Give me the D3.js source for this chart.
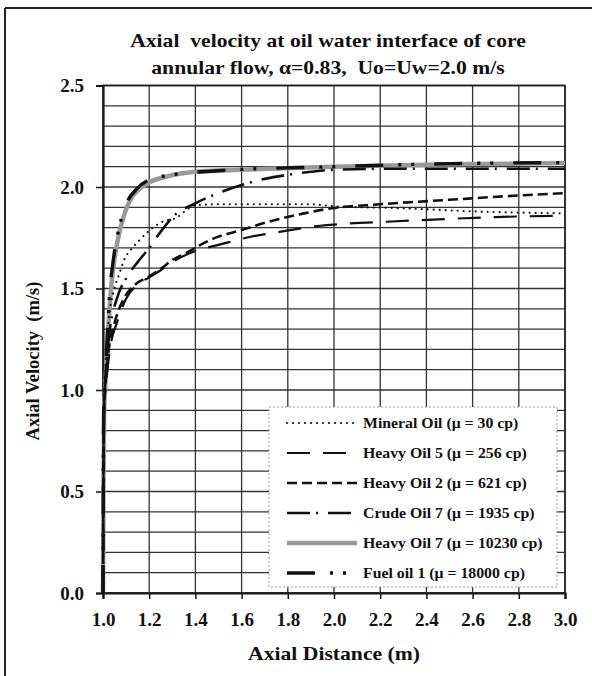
<!DOCTYPE html>
<html lang="en">
<head>
<meta charset="UTF-8">
<title>Axial velocity</title>
<script src="https://d3js.org/d3.v7.min.js"></script>
<style>
  body { margin: 0; background: #fff; }
  text { font-family: "Liberation Serif", "Times New Roman", serif; font-weight: bold; fill: #111; white-space: pre; }
</style>
</head>
<body>
<svg id="chart" width="592" height="676"></svg>
<script>
// data: [axial distance (m), axial velocity (m/s)]
const mineralOil = [[1.0,0],[1.003,0.9],[1.01,1.1],[1.025,1.35],[1.045,1.48],[1.07,1.57],[1.095,1.65],[1.12,1.69],[1.16,1.74],[1.2,1.785],[1.26,1.83],[1.32,1.85],[1.36,1.885],[1.4,1.91],[1.5,1.915],[1.9,1.915],[2.0,1.905],[2.3,1.895],[2.6,1.88],[3.0,1.87]];
const heavyOil5 = [[1.0,0],[1.004,0.9],[1.015,1.05],[1.03,1.2],[1.06,1.33],[1.1,1.45],[1.15,1.52],[1.2,1.555],[1.25,1.59],[1.3,1.63],[1.4,1.685],[1.5,1.715],[1.64,1.755],[1.77,1.78],[1.93,1.808],[2.06,1.82],[2.25,1.83],[2.5,1.843],[2.7,1.852],[3.0,1.858]];
const heavyOil2 = [[1.0,0],[1.004,0.9],[1.012,1.05],[1.025,1.2],[1.05,1.33],[1.09,1.45],[1.14,1.52],[1.2,1.56],[1.25,1.597],[1.3,1.64],[1.36,1.675],[1.42,1.714],[1.48,1.747],[1.6,1.788],[1.72,1.83],[1.87,1.87],[1.99,1.895],[2.2,1.915],[2.5,1.937],[2.75,1.955],[3.0,1.97]];
const crudeOil7 = [[1.0,0],[1.004,0.9],[1.01,1.05],[1.03,1.3],[1.06,1.45],[1.1,1.55],[1.15,1.63],[1.2,1.7],[1.25,1.78],[1.3,1.85],[1.4,1.92],[1.5,1.97],[1.6,2.01],[1.7,2.04],[1.8,2.06],[1.9,2.075],[2.0,2.085],[2.3,2.09],[3.0,2.09]];
const heavyOil7 = [[1.0,0],[1.002,0.5],[1.005,0.9],[1.009,1.0],[1.02,1.25],[1.035,1.5],[1.043,1.59],[1.056,1.69],[1.074,1.79],[1.1,1.89],[1.125,1.95],[1.152,1.985],[1.195,2.02],[1.27,2.05],[1.4,2.075],[1.6,2.085],[2.0,2.1],[2.5,2.112],[3.0,2.118]];
const fuelOil1 = [[1.0,0],[1.003,0.9],[1.008,1.0],[1.018,1.25],[1.03,1.5],[1.04,1.6],[1.052,1.7],[1.07,1.8],[1.095,1.9],[1.145,1.99],[1.19,2.03],[1.3,2.06],[1.5,2.08],[2.0,2.1],[2.5,2.115],[3.0,2.12]];

const seriesNames = ["Mineral Oil (\u03bc = 30 cp)", "Heavy Oil 5 (\u03bc = 256 cp)", "Heavy Oil 2 (\u03bc = 621 cp)",
                     "Crude Oil 7 (\u03bc = 1935 cp)", "Heavy Oil 7 (\u03bc = 10230 cp)", "Fuel oil 1 (\u03bc = 18000 cp)"];
const xTicks = [1.0, 1.2, 1.4, 1.6, 1.8, 2.0, 2.2, 2.4, 2.6, 2.8, 3.0];
const yTicks = [0.0, 0.5, 1.0, 1.5, 2.0, 2.5];
const yGrid = d3.range(0, 26).map(i => i / 10);

// line look for each series
const styles = [
  { stroke: "#111", width: 2.2, dash: "0,6", cap: "round" },
  { stroke: "#111", width: 2.2, dash: "23,13", cap: "butt" },
  { stroke: "#111", width: 2.6, dash: "10,5", cap: "butt" },
  { stroke: "#111", width: 2.6, dash: "23,6,2,10", cap: "butt" },
  { stroke: "#999", width: 4.5, dash: null, cap: "butt" },
  { stroke: "#111", width: 3.4, dash: "28,15,3,10,3,20", cap: "butt" }
];
const allSeries = [mineralOil, heavyOil5, heavyOil2, crudeOil7, heavyOil7, fuelOil1];

const svg = d3.select("#chart");
const plotLeft = 103, plotRight = 565, plotTop = 85.5, plotBottom = 593;

const x = d3.scaleLinear().domain([1, 3]).range([plotLeft, plotRight]);
const y = d3.scaleLinear().domain([0, 2.5]).range([plotBottom, plotTop]);

// the scanned lettering is a bit wider than Liberation Serif, so stretch it sideways
function wideText(px, py, size, sx, anchor, str) {
  return svg.append("text")
    .attr("transform", `translate(${px},${py}) scale(${sx},1)`)
    .attr("text-anchor", anchor)
    .attr("font-size", size)
    .text(str);
}

// outer frame (only top and left show in the scan)
svg.append("line").attr("x1", 5).attr("x2", 592).attr("y1", 8).attr("y2", 8)
   .attr("stroke", "#222").attr("stroke-width", 2);
svg.append("line").attr("x1", 5).attr("x2", 5).attr("y1", 8).attr("y2", 676)
   .attr("stroke", "#222").attr("stroke-width", 2);

// title
wideText(328, 47, 18.5, 1.17, "middle", "Axial  velocity at oil water interface of core");
wideText(328, 74, 18.5, 1.17, "middle", "annular flow, \u03b1=0.83,  Uo=Uw=2.0 m/s");

// grid
svg.append("g").selectAll("line").data(yGrid).join("line")
  .attr("x1", plotLeft).attr("x2", plotRight)
  .attr("y1", d => y(d)).attr("y2", d => y(d))
  .attr("stroke", "#333").attr("stroke-width", 1.3);
svg.append("g").selectAll("line").data(xTicks).join("line")
  .attr("x1", d => x(d)).attr("x2", d => x(d))
  .attr("y1", plotTop).attr("y2", plotBottom)
  .attr("stroke", "#333").attr("stroke-width", 1.3);

// axes
const xAxis = svg.append("g").attr("transform", `translate(0,${plotBottom})`)
  .call(d3.axisBottom(x).tickValues(xTicks).tickFormat(d3.format(".1f")).tickSize(6).tickPadding(14));
const yAxis = svg.append("g").attr("transform", `translate(${plotLeft},0)`)
  .call(d3.axisLeft(y).tickValues(yTicks).tickFormat(d3.format(".1f")).tickSize(7).tickPadding(12));
[xAxis, yAxis].forEach(a => {
  a.select(".domain").attr("stroke", "#111").attr("stroke-width", 2.2);
  a.selectAll(".tick line").attr("stroke", "#111").attr("stroke-width", 1.5);
  a.selectAll(".tick text").attr("font-size", 19).attr("fill", "#111")
    .attr("font-family", "Liberation Serif, serif").attr("font-weight", "bold");
});
svg.append("rect").attr("x", plotLeft).attr("y", plotTop)
  .attr("width", plotRight - plotLeft).attr("height", plotBottom - plotTop)
  .attr("fill", "none").attr("stroke", "#222").attr("stroke-width", 1.6);

// axis titles
wideText(334, 660, 18.5, 1.17, "middle", "Axial Distance (m)");
svg.append("text").attr("transform", "translate(39,361) rotate(-90)").attr("text-anchor", "middle")
  .attr("font-size", 18.5).text("Axial Velocity  (m/s)");

// curves
const line = d3.line().x(d => x(d[0])).y(d => y(d[1])).curve(d3.curveMonotoneX);
const plot = svg.append("g");
[4, 0, 1, 2, 3, 5].forEach(i => {
  const s = styles[i];
  plot.append("path").datum(allSeries[i])
    .attr("d", line)
    .attr("fill", "none")
    .attr("stroke", s.stroke)
    .attr("stroke-width", s.width)
    .attr("stroke-linecap", s.cap)
    .attr("stroke-linejoin", "round")
    .attr("stroke-dasharray", s.dash);
});

// legend
const legend = svg.append("g");
legend.append("rect").attr("x", 269).attr("y", 407).attr("width", 288).attr("height", 180)
  .attr("fill", "#fff").attr("stroke", "#999").attr("stroke-width", 1).attr("stroke-dasharray", "2,2");
seriesNames.forEach((name, i) => {
  const yy = 423 + i * 30;
  const s = styles[i];
  legend.append("line").attr("x1", 287).attr("x2", 357).attr("y1", yy).attr("y2", yy)
    .attr("stroke", s.stroke).attr("stroke-width", s.width)
    .attr("stroke-linecap", s.cap).attr("stroke-dasharray", s.dash);
  wideText(363, yy + 5, 14, 1.13, "start", name);
});
</script>
</body>
</html>
